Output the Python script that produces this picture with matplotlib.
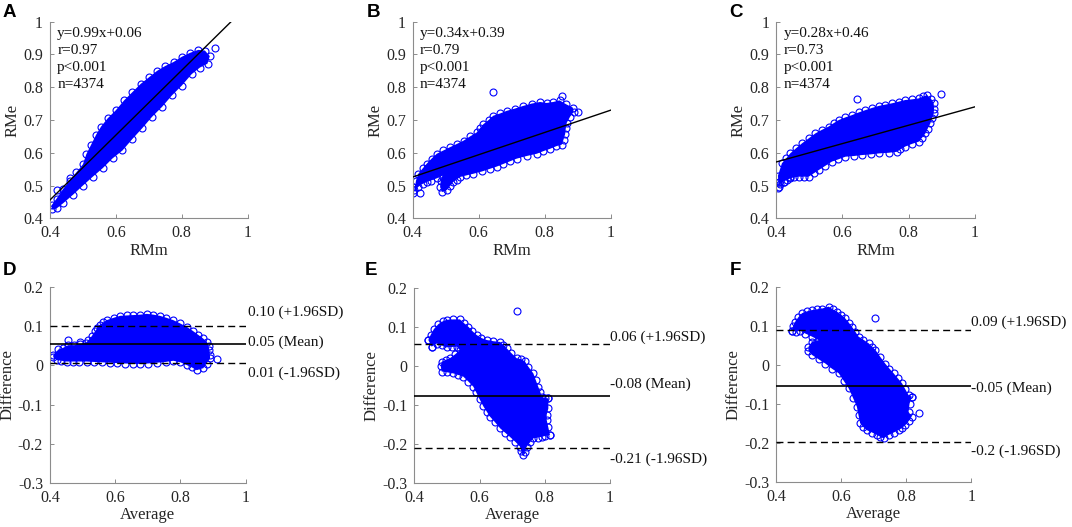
import numpy as np
import matplotlib
matplotlib.use("Agg")
import matplotlib.pyplot as plt

plt.rcParams['font.family'] = ['Liberation Serif', 'DejaVu Serif']

BLUE = '#0000ff'

a_edge_x = [0.405, 0.42, 0.44, 0.46, 0.48, 0.50, 0.51, 0.525, 0.54, 0.555, 0.575, 0.60, 0.625, 0.65,
            0.675, 0.70, 0.725, 0.75, 0.775, 0.80, 0.825, 0.85, 0.87, 0.885,
            0.878, 0.855, 0.83, 0.80, 0.77, 0.74, 0.71, 0.68, 0.65, 0.62, 0.59, 0.56, 0.53, 0.50,
            0.47, 0.44, 0.42, 0.405]
a_edge_y = [0.44, 0.46, 0.49, 0.515, 0.54, 0.565, 0.595, 0.625, 0.655, 0.68, 0.705, 0.73, 0.76, 0.785,
            0.81, 0.83, 0.85, 0.865, 0.877, 0.893, 0.905, 0.914, 0.912, 0.895,
            0.872, 0.86, 0.84, 0.805, 0.775, 0.74, 0.71, 0.675, 0.642, 0.607, 0.583, 0.553, 0.527, 0.50,
            0.472, 0.446, 0.43, 0.428]
a_out_x = [0.42, 0.461, 0.901]
a_out_y = [0.486, 0.522, 0.919]

b_edge_x = [0.41, 0.417, 0.43, 0.442, 0.457, 0.473, 0.493, 0.513, 0.534, 0.554, 0.574, 0.594, 0.604,
            0.614, 0.63, 0.644, 0.665, 0.685, 0.71, 0.735, 0.76, 0.786, 0.806, 0.826, 0.845, 0.865,
            0.885, 0.888, 0.877, 0.867, 0.864, 0.862, 0.857, 0.852,
            0.835, 0.816, 0.796, 0.776, 0.745, 0.715, 0.695, 0.675, 0.655, 0.634, 0.61, 0.584,
            0.563, 0.543, 0.533, 0.523, 0.513, 0.503, 0.49, 0.483, 0.485, 0.49,
            0.473, 0.455, 0.442, 0.43, 0.417, 0.405]
b_edge_y = [0.515, 0.536, 0.552, 0.566, 0.582, 0.597, 0.607, 0.617, 0.627, 0.637, 0.65, 0.662, 0.675,
            0.687, 0.70, 0.713, 0.72, 0.728, 0.735, 0.743, 0.75, 0.755, 0.752, 0.755, 0.76, 0.748,
            0.738, 0.725, 0.71, 0.692, 0.675, 0.657, 0.64, 0.625,
            0.62, 0.612, 0.605, 0.597, 0.59, 0.582, 0.574, 0.566, 0.558, 0.551, 0.543, 0.536,
            0.531, 0.526, 0.518, 0.511, 0.498, 0.486, 0.48, 0.495, 0.515, 0.53,
            0.522, 0.515, 0.511, 0.505, 0.496, 0.485]
b_out_x = [0.644, 0.852, 0.902, 0.402, 0.402, 0.422]
b_out_y = [0.786, 0.773, 0.723, 0.476, 0.496, 0.478]

c_edge_x = [0.405, 0.417, 0.43, 0.442, 0.46, 0.478, 0.498, 0.518, 0.538, 0.558, 0.573, 0.589, 0.609,
            0.629, 0.649, 0.669, 0.69, 0.71, 0.73, 0.75, 0.77, 0.79, 0.81, 0.831, 0.845, 0.856,
            0.868, 0.876, 0.877, 0.876, 0.871, 0.866, 0.858, 0.851, 0.841, 0.831,
            0.81, 0.79, 0.775, 0.765, 0.74, 0.71, 0.685, 0.659, 0.634, 0.609, 0.588, 0.568, 0.548,
            0.528, 0.513, 0.498, 0.483, 0.468, 0.455, 0.442, 0.432, 0.422, 0.412, 0.407]
c_edge_y = [0.53, 0.568, 0.583, 0.598, 0.614, 0.629, 0.644, 0.659, 0.67, 0.68, 0.69, 0.70, 0.708,
            0.715, 0.723, 0.73, 0.737, 0.743, 0.747, 0.751, 0.756, 0.761, 0.763, 0.766, 0.772, 0.776,
            0.765, 0.751, 0.735, 0.72, 0.705, 0.69, 0.674, 0.659, 0.646, 0.634,
            0.627, 0.619, 0.61, 0.603, 0.60, 0.598, 0.595, 0.593, 0.59, 0.588, 0.58, 0.573, 0.56,
            0.547, 0.537, 0.527, 0.527, 0.527, 0.525, 0.522, 0.517, 0.512, 0.505, 0.497]
c_out_x = [0.644, 0.899, 0.405, 0.407, 0.422, 0.442]
c_out_y = [0.764, 0.778, 0.491, 0.512, 0.512, 0.527]

fits = [(0.99, 0.06), (0.34, 0.39), (0.28, 0.46)]
fit_stats = [('y=0.99x+0.06', 'r=0.97'), ('y=0.34x+0.39', 'r=0.79'), ('y=0.28x+0.46', 'r=0.73')]
n_points = 4374

# ---- Bland-Altman panels (Difference vs Average) ----
d_edge_x = [0.41, 0.426, 0.44, 0.456, 0.475, 0.492, 0.51, 0.518, 0.528, 0.538, 0.545, 0.553, 0.563,
            0.574, 0.595, 0.615, 0.635, 0.656, 0.677, 0.697, 0.717, 0.737, 0.757, 0.778, 0.798,
            0.819, 0.837, 0.855, 0.868, 0.881, 0.886, 0.889, 0.89, 0.891,
            0.88, 0.87, 0.85, 0.835, 0.819, 0.80, 0.778, 0.755, 0.727, 0.70, 0.675, 0.656, 0.63,
            0.605, 0.584, 0.56, 0.535, 0.512, 0.49, 0.47, 0.451, 0.435, 0.42, 0.41]
d_edge_y = [0.027, 0.041, 0.045, 0.052, 0.052, 0.055, 0.058, 0.065, 0.075, 0.087, 0.096, 0.104, 0.11,
            0.116, 0.122, 0.127, 0.128, 0.129, 0.13, 0.132, 0.13, 0.127, 0.122, 0.116, 0.108,
            0.099, 0.089, 0.078, 0.07, 0.061, 0.05, 0.04, 0.028, 0.018,
            0.005, -0.007, -0.012, -0.005, 0.001, 0.008, 0.012, 0.009, 0.007, 0.005, 0.004, 0.004, 0.005,
            0.006, 0.007, 0.008, 0.009, 0.010, 0.01, 0.01, 0.01, 0.012, 0.014, 0.021]
d_out_x = [0.456, 0.492, 0.911]
d_out_y = [0.065, 0.061, 0.016]

e_edge_x = [0.443, 0.45, 0.46, 0.474, 0.487, 0.499, 0.52, 0.54, 0.553, 0.566, 0.578, 0.591, 0.606,
            0.622, 0.642, 0.663, 0.673, 0.683, 0.698, 0.714, 0.727, 0.739, 0.75, 0.765, 0.772, 0.78,
            0.786, 0.791, 0.80, 0.811, 0.811, 0.806, 0.806, 0.811, 0.816, 0.80, 0.791, 0.778, 0.765,
            0.755, 0.745, 0.738, 0.734, 0.728, 0.724, 0.71, 0.693, 0.678, 0.663, 0.648, 0.632, 0.622,
            0.612, 0.60, 0.59, 0.581, 0.566, 0.55, 0.535, 0.52, 0.50, 0.484, 0.481, 0.484, 0.497,
            0.509, 0.525, 0.54, 0.53, 0.515, 0.499, 0.484, 0.469, 0.453]
e_edge_y = [0.067, 0.08, 0.095, 0.108, 0.115, 0.119, 0.12, 0.12, 0.11, 0.101, 0.09, 0.08, 0.072,
            0.067, 0.064, 0.062, 0.055, 0.046, 0.033, 0.02, 0.018, 0.012, -0.002, -0.019, -0.035, -0.053,
            -0.066, -0.079, -0.082, -0.083, -0.109, -0.125, -0.139, -0.158, -0.177, -0.18, -0.182, -0.184, -0.186,
            -0.196, -0.207, -0.22, -0.229, -0.218, -0.207, -0.195, -0.182, -0.171, -0.16, -0.145, -0.13, -0.117,
            -0.104, -0.085, -0.068, -0.053, -0.04, -0.027, -0.023, -0.019, -0.016, -0.014, 0.0, 0.011, 0.016,
            0.02, 0.03, 0.041, 0.05, 0.049, 0.048, 0.053, 0.058, 0.05]
e_out_x = [0.714, 0.443, 0.453, 0.811, 0.816]
e_out_y = [0.142, 0.067, 0.05, -0.083, -0.177]

f_edge_x = [0.448, 0.452, 0.458, 0.468, 0.479, 0.495, 0.51, 0.525, 0.541, 0.561, 0.574, 0.587, 0.60,
            0.612, 0.623, 0.633, 0.643, 0.653, 0.668, 0.684, 0.695, 0.705, 0.72, 0.735, 0.748, 0.761,
            0.774, 0.787, 0.797, 0.807, 0.817, 0.81, 0.807, 0.817, 0.807, 0.797, 0.787, 0.776, 0.761,
            0.746, 0.73, 0.72, 0.71, 0.695, 0.679, 0.668, 0.658, 0.653, 0.648, 0.636, 0.623, 0.608,
            0.592, 0.571, 0.551, 0.53, 0.51, 0.499, 0.499, 0.51, 0.53, 0.51, 0.489, 0.474, 0.46]
f_edge_y = [0.087, 0.10, 0.11, 0.122, 0.132, 0.137, 0.14, 0.142, 0.144, 0.149, 0.142, 0.136, 0.128,
            0.119, 0.108, 0.097, 0.085, 0.072, 0.064, 0.055, 0.046, 0.038, 0.02, 0.003, -0.01, -0.022,
            -0.035, -0.048, -0.063, -0.078, -0.082, -0.1, -0.121, -0.133, -0.145, -0.155, -0.162, -0.168, -0.174,
            -0.18, -0.189, -0.185, -0.18, -0.174, -0.168, -0.16, -0.15, -0.13, -0.108, -0.085, -0.061, -0.042,
            -0.022, -0.01, 0.003, 0.014, 0.025, 0.035, 0.046, 0.059, 0.063, 0.072, 0.08, 0.087, 0.085]
f_out_x = [0.705, 0.84, 0.448, 0.817]
f_out_y = [0.119, -0.125, 0.087, -0.082]

# (upper limit, mean, lower limit) line levels and their labels
ba_levels = [(0.101, 0.054, 0.006), (0.057, -0.076, -0.21), (0.089, -0.054, -0.197)]
ba_labels = [('0.10 (+1.96SD)', '0.05 (Mean)', '0.01 (-1.96SD)'),
             ('0.06 (+1.96SD)', '-0.08 (Mean)', '-0.21 (-1.96SD)'),
             ('0.09 (+1.96SD)', '-0.05 (Mean)', '-0.2 (-1.96SD)')]

W, H = 1072, 527
fig = plt.figure(figsize=(W / 100, H / 100), dpi=100)


def add_axes_px(l, t, r, b):
    return fig.add_axes([l / W, 1 - b / H, (r - l) / W, (b - t) / H])


def style(ax, yticks, ylabels):
    for s in ['top', 'right']:
        ax.spines[s].set_visible(False)
    for s in ['left', 'bottom']:
        ax.spines[s].set_color('#8c8c8c')
        ax.spines[s].set_linewidth(0.8)
    ax.set_xlim(0.4, 1.0)
    ax.set_xticks([0.4, 0.6, 0.8, 1.0])
    ax.set_xticklabels(['0.4', '0.6', '0.8', '1'])
    ax.set_yticks(yticks)
    ax.set_yticklabels(ylabels)
    ax.tick_params(direction='in', length=3, width=0.7, color='#8c8c8c',
                   labelsize=11.5, labelcolor='#262626', pad=5)
    ax.patch.set_alpha(0)


def cloud(ax, ex, ey, ox, oy):
    ax.fill(ex, ey, color=BLUE, lw=0, zorder=2)
    ax.plot(ex, ey, 'o', mfc='none', mec=BLUE, ms=5, mew=0.8, zorder=2)
    ax.plot(ox, oy, 'o', mfc='none', mec=BLUE, ms=5, mew=0.8, zorder=2)


top_boxes = [(50, 21.7, 247.7, 218.3), (412.7, 21.7, 610.7, 218.3), (776.3, 21.7, 974.7, 218.3)]
bot_boxes = [(50, 287.3, 245.7, 482.7), (414.3, 288.3, 610, 482.7), (776.3, 286.7, 971.3, 481.7)]
top_clouds = [(a_edge_x, a_edge_y, a_out_x, a_out_y), (b_edge_x, b_edge_y, b_out_x, b_out_y),
              (c_edge_x, c_edge_y, c_out_x, c_out_y)]
bot_clouds = [(d_edge_x, d_edge_y, d_out_x, d_out_y), (e_edge_x, e_edge_y, e_out_x, e_out_y),
              (f_edge_x, f_edge_y, f_out_x, f_out_y)]

yt_top = [0.4, 0.5, 0.6, 0.7, 0.8, 0.9, 1.0]
yl_top = ['0.4', '0.5', '0.6', '0.7', '0.8', '0.9', '1']
yt_bot = [-0.3, -0.2, -0.1, 0, 0.1, 0.2]
yl_bot = ['-0.3', '-0.2', '-0.1', '0', '0.1', '0.2']

for i in range(3):
    ax = add_axes_px(*top_boxes[i])
    style(ax, yt_top, yl_top)
    ax.set_ylim(0.4, 1.0)
    cloud(ax, *top_clouds[i])
    k, c = fits[i]
    xs = np.array([0.4, 1.0])
    ax.plot(xs, k * xs + c, color='black', lw=1.0, zorder=3)
    ax.text(0.422, 0.985, '\n'.join([fit_stats[i][0], fit_stats[i][1], 'p<0.001', 'n=%d' % n_points]),
            fontsize=11, va='top', ha='left', linespacing=1.42, color='#111111')
    ax.set_xlabel('RMm', fontsize=12, labelpad=1, color='#262626')
    ax.set_ylabel('RMe', fontsize=12, labelpad=2, color='#262626')

# label offsets (data units) for upper / mean / lower texts
offs = [(0.034, 0.005, -0.026), (0.017, 0.03, -0.03), (0.021, -0.006, -0.026)]
xstart = [1.008, 1.0, 1.0]

for i in range(3):
    ax = add_axes_px(*bot_boxes[i])
    style(ax, yt_bot, yl_bot)
    ax.set_ylim(-0.3, 0.2)
    cloud(ax, *bot_clouds[i])
    up, mean, lo = ba_levels[i]
    ax.axhline(up, color='black', lw=1.0, ls=(0, (5, 3)), zorder=3)
    ax.axhline(mean, color='black', lw=1.2, zorder=3)
    ax.axhline(lo, color='black', lw=1.0, ls=(0, (5, 3)), zorder=3)
    for lvl, off, lab in zip((up, mean, lo), offs[i], ba_labels[i]):
        ax.text(xstart[i], lvl + off, lab, fontsize=11, va='center', ha='left',
                clip_on=False, color='#111111')
    ax.set_xlabel('Average', fontsize=12, labelpad=1, color='#262626')
    ax.set_ylabel('Difference', fontsize=12, labelpad=2, color='#262626')

letters = [('A', 3, 4), ('B', 367, 4), ('C', 729, 4), ('D', 3, 262), ('E', 365, 262), ('F', 730, 262)]
for s, x, y in letters:
    fig.text(x / W, 1 - y / H, s, fontsize=13.5, fontweight='bold', family='Liberation Sans',
             va='top', ha='left')

fig.savefig('out.png', dpi=100)
